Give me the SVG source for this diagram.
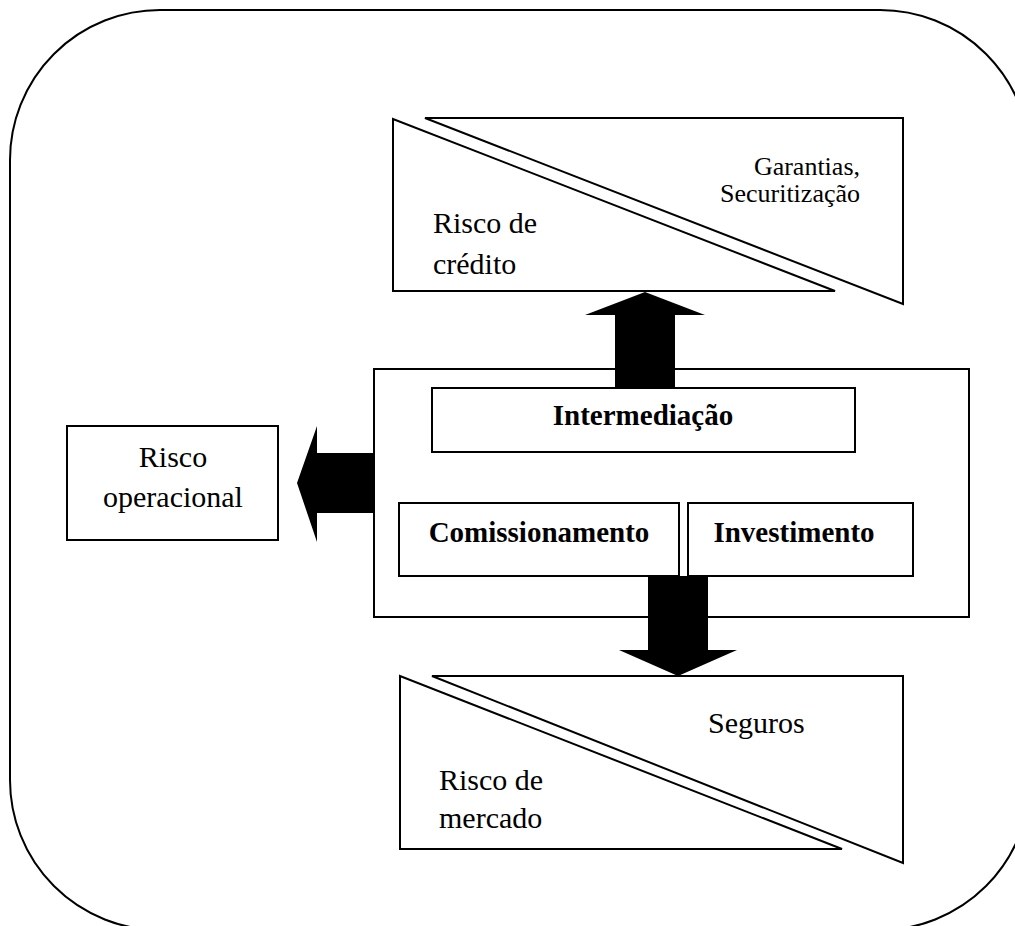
<svg xmlns="http://www.w3.org/2000/svg" width="1015" height="926" viewBox="0 0 1015 926">
  <style>
    .frame { fill: none; stroke: #000; stroke-width: 2; }
    .box { fill: #fff; stroke: #000; stroke-width: 2; }
    .arrow { fill: #000; stroke: none; }
    .t { font-family: "Liberation Serif", "Times New Roman", serif; fill: #000; }
    .lg { font-size: 30px; }
    .sm { font-size: 26px; }
    .b { font-size: 29px; font-weight: bold; }
  </style>
  <rect width="1015" height="926" fill="#fff"/>

  <!-- outer rounded frame -->
  <rect id="frame" class="frame" x="10" y="10" width="1020" height="920" rx="150" ry="150"/>

  <!-- credit risk wedge pair -->
  <g id="credit">
    <polygon class="box" points="393,119 393,291 835,291"/>
    <polygon class="box" points="425,118 903,118 903,304"/>
    <text class="t lg" x="433" y="233">Risco de</text>
    <text class="t lg" x="433" y="274">crédito</text>
    <text class="t sm" x="860" y="175" text-anchor="end">Garantias,</text>
    <text class="t sm" x="860" y="202" text-anchor="end">Securitização</text>
  </g>

  <!-- market risk wedge pair -->
  <g id="market">
    <polygon class="box" points="400,676 400,849 842,849"/>
    <polygon class="box" points="432,676 903,676 903,863"/>
    <text class="t lg" x="439" y="790">Risco de</text>
    <text class="t lg" x="439" y="828">mercado</text>
    <text class="t lg" x="708" y="733">Seguros</text>
  </g>

  <!-- operational risk -->
  <g id="operational">
    <rect class="box" x="67" y="426" width="211" height="114"/>
    <text class="t lg" x="173" y="467" text-anchor="middle">Risco</text>
    <text class="t lg" x="173" y="507" text-anchor="middle">operacional</text>
  </g>

  <!-- activities container -->
  <g id="activities">
    <rect class="box" x="374" y="369" width="595" height="248"/>
  </g>
  <g id="intermediacao">
    <rect class="box" x="432" y="388" width="423" height="64"/>
    <text class="t b" x="643" y="425" text-anchor="middle">Intermediação</text>
  </g>
  <g id="comissionamento">
    <rect class="box" x="399" y="503" width="280" height="73"/>
    <text class="t b" x="539" y="542" text-anchor="middle">Comissionamento</text>
  </g>
  <g id="investimento">
    <rect class="box" x="688" y="503" width="225" height="73"/>
    <text class="t b" x="794" y="542" text-anchor="middle">Investimento</text>
  </g>

  <!-- block arrows -->
  <g id="connectors">
    <polygon class="arrow" points="615,388 615,315 585,315 645,292 705,315 675,315 675,388"/>
    <polygon class="arrow" points="374,453 317,453 317,426 297,483 317,542 317,513 374,513"/>
    <polygon class="arrow" points="648,576 648,650 619,650 678,676 737,650 708,650 708,576"/>
  </g>
</svg>
